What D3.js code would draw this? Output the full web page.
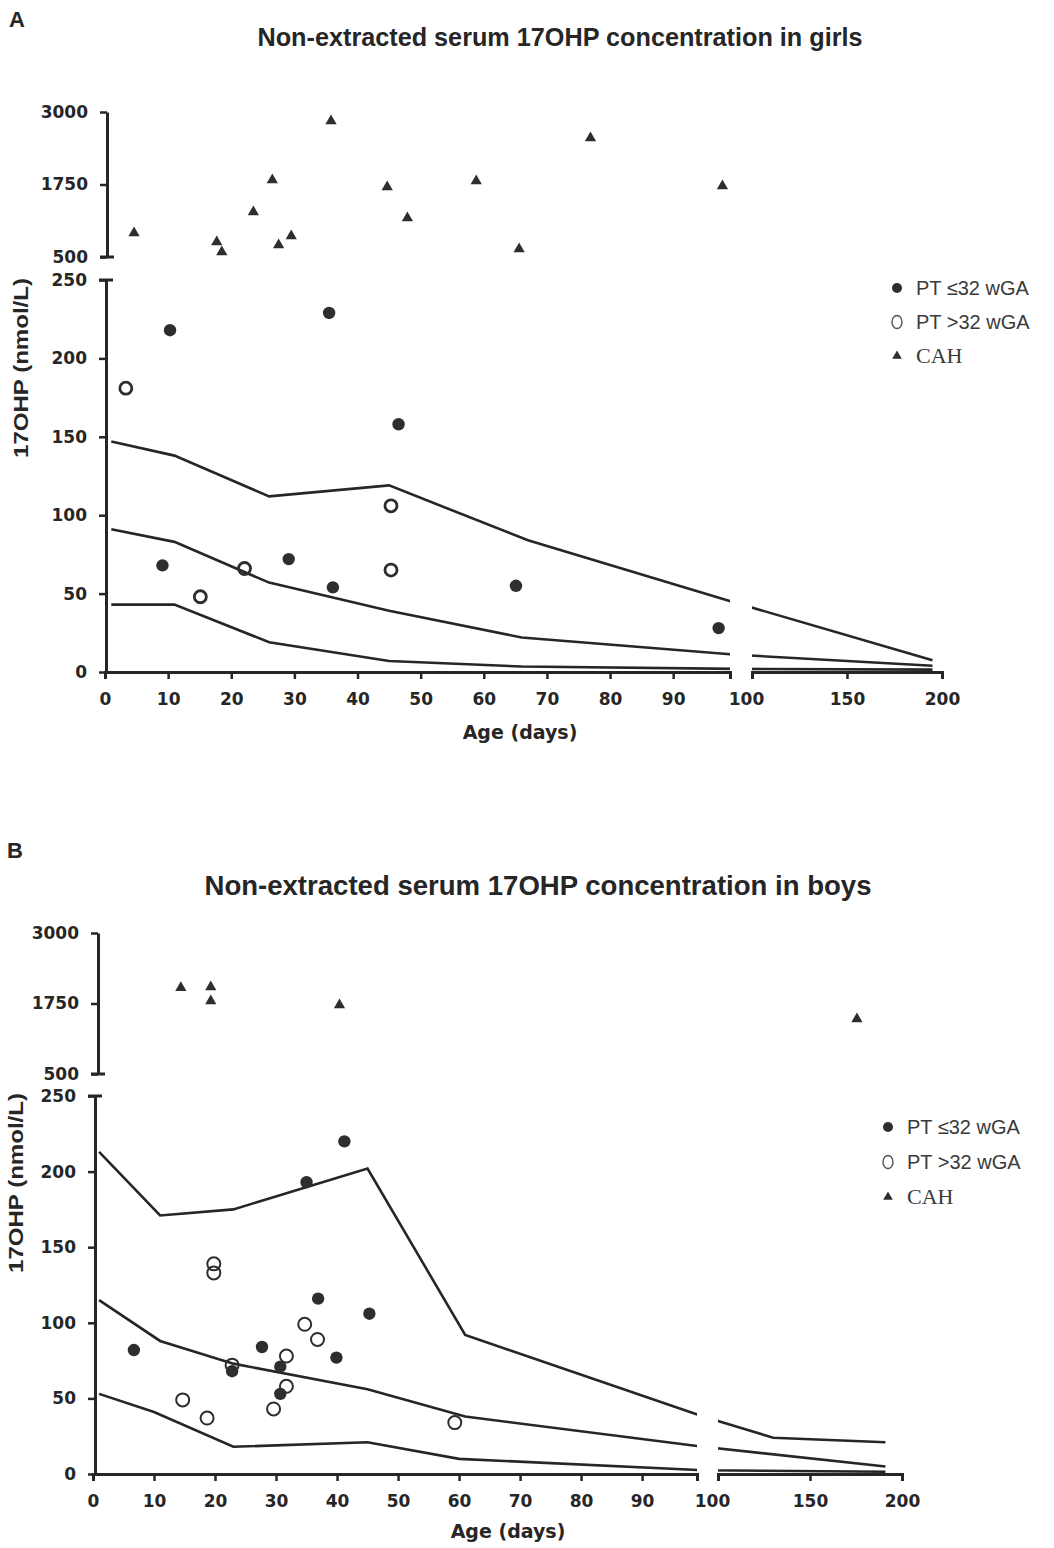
<!DOCTYPE html>
<html>
<head>
<meta charset="utf-8">
<script src="https://cdn.jsdelivr.net/npm/d3@7"></script>
<style>
body { margin: 0; background: #fff; }
</style>
</head>
<body>
<div id="chart"></div>
<script>
// ---- panel A : girls  ([age in days, 17OHP nmol/L])
const girlsPT32 = [[10.3,218],[35.5,229],[46.5,158],[9.1,68],[29.1,72],[36.1,54],[65.1,55],[97.2,28]];
const girlsPTover32 = [[3.3,181],[45.3,106],[22.1,66],[45.3,65],[15.1,48]];
const girlsCAH = [[4.6,914],[17.7,759],[18.5,586],[23.5,1276],[26.5,1828],[27.5,707],[29.5,862],[35.8,2845],
    [44.7,1707],[47.9,1172],[58.8,1810],[65.6,638],[76.9,2552],[97.8,1724]];
const girlsUpper = [[1,147],[11,138],[26,112],[45,119],[67,84],[100,44],[195,7.5]];
const girlsMiddle = [[1,91],[11,83],[26,57],[45,39],[66,22],[100,11],[195,4]];
const girlsLower = [[1,43],[11,43],[26,19],[45,7],[66,3.5],[100,2],[195,1.5]];

// ---- panel B : boys
const boysPT32 = [[41.2,220],[35,193],[36.9,116],[45.3,106],[6.7,82],[27.7,84],[39.9,77],[22.8,68],[30.7,71],[30.7,53]];
const boysPTover32 = [[19.8,139],[19.8,133],[34.7,99],[36.8,89],[31.7,78],[31.7,58],[14.7,49],[18.7,37],[29.6,43],[59.3,34],[22.8,72]];
const boysCAH = [[14.4,2030],[19.3,2043],[19.3,1794],[40.4,1723],[175.5,1475]];
const boysUpper = [[1,213],[11,171],[23,175],[45,202],[61,92],[100,38],[130,24],[191,21]];
const boysMiddle = [[1,115],[11,88],[23,73],[45,56],[61,38],[100,18],[191,5]];
const boysLower = [[1,53],[10,41],[23,18],[45,21],[60,10],[100,2.5],[191,1.5]];

// ---- axes / labels
const lowTicks = [0, 50, 100, 150, 200, 250];
const highTicks = [500, 1750, 3000];
const dayTicks = [0, 10, 20, 30, 40, 50, 60, 70, 80, 90];
const dayTicks2 = [100, 150, 200];
const legendLabels = ["PT \u226432 wGA", "PT >32 wGA", "CAH"];
const yTitle = "17OHP (nmol/L)";
const xTitle = "Age (days)";

const ink = "#262626";
const svg = d3.select("#chart").append("svg")
    .attr("width", 1054)
    .attr("height", 1548)
    .style("background", "#fff");

const panels = [
    {
        id: "A", tag: "A", tagX: 9, tagY: 27,
        title: "Non-extracted serum 17OHP concentration in girls", titleX: 560, titleY: 46, titleLen: 605, titleSize: 25,
        x0: 105, xBreak: 730, x100: 752, x200: 942,
        y0: 672, y250: 280, y500: 257, y3000: 112, axisX: 106, axisXHigh: 107,
        yTitleX: 28, yTitleY: 368, xTitleX: 520, xTitleY: 739,
        legX: 897, legY: 288, legGap: 34,
        pt32: girlsPT32, ptOver: girlsPTover32, cah: girlsCAH,
        lines: [girlsUpper, girlsMiddle, girlsLower], openStroke: 2.8, openR: 6
    },
    {
        id: "B", tag: "B", tagX: 7, tagY: 858,
        title: "Non-extracted serum 17OHP concentration in boys", titleX: 538, titleY: 895, titleLen: 667, titleSize: 27,
        x0: 93, xBreak: 697, x100: 718, x200: 902,
        y0: 1474, y250: 1096, y500: 1074, y3000: 933, axisX: 95, axisXHigh: 98,
        yTitleX: 23, yTitleY: 1183, xTitleX: 508, xTitleY: 1538,
        legX: 888, legY: 1127, legGap: 35,
        pt32: boysPT32, ptOver: boysPTover32, cah: boysCAH,
        lines: [boysUpper, boysMiddle, boysLower], openStroke: 2, openR: 6.5
    }
];

panels.forEach(drawPanel);

function styleAxis(sel) {
    sel.select(".domain").attr("stroke", ink).attr("stroke-width", 3);
    sel.selectAll(".tick line").attr("stroke", ink).attr("stroke-width", 2.5);
    sel.selectAll(".tick text")
        .attr("fill", ink)
        .style("font-family", "DejaVu Sans")
        .style("font-weight", "bold")
        .style("font-size", "17px");
}

function drawPanel(p) {
    const g = svg.append("g");
    const fmt = d3.format("d");

    const x1 = d3.scaleLinear().domain([0, 99]).range([p.x0, p.xBreak]);
    const x2 = d3.scaleLinear().domain([100, 200]).range([p.x100, p.x200]);
    const xDay = d => d <= 100 ? x1(d) : x2(d);
    const yLow = d3.scaleLinear().domain([0, 250]).range([p.y0, p.y250]);
    const yHigh = d3.scaleLinear().domain([500, 3000]).range([p.y500, p.y3000]);

    // panel letter + title
    svg.append("text").attr("x", p.tagX).attr("y", p.tagY).text(p.tag)
        .style("font-family", "Liberation Sans").style("font-weight", "bold").style("font-size", "22px").attr("fill", ink);
    svg.append("text").attr("x", p.titleX).attr("y", p.titleY).text(p.title)
        .attr("text-anchor", "middle")
        .attr("textLength", p.titleLen).attr("lengthAdjust", "spacingAndGlyphs")
        .style("font-family", "Liberation Sans").style("font-weight", "bold").style("font-size", p.titleSize + "px")
        .attr("fill", ink);

    // y axes (broken)
    const yl = g.append("g").attr("transform", "translate(" + p.axisX + ",0)")
        .call(d3.axisLeft(yLow).tickValues(lowTicks).tickFormat(fmt).tickSize(7).tickSizeOuter(0).tickPadding(12));
    styleAxis(yl);
    const yh = g.append("g").attr("transform", "translate(" + p.axisXHigh + ",0)")
        .call(d3.axisLeft(yHigh).tickValues(highTicks).tickFormat(fmt).tickSize(7).tickSizeOuter(0).tickPadding(12));
    styleAxis(yh);
    // caps at the break
    g.append("line").attr("x1", p.axisX - 7).attr("x2", p.axisX + 7)
        .attr("y1", yLow(250)).attr("y2", yLow(250)).attr("stroke", ink).attr("stroke-width", 3);
    g.append("line").attr("x1", p.axisXHigh - 7).attr("x2", p.axisXHigh + 7)
        .attr("y1", yHigh(500)).attr("y2", yHigh(500)).attr("stroke", ink).attr("stroke-width", 3);

    // x axes (broken)
    const xa = g.append("g").attr("transform", "translate(0," + p.y0 + ")")
        .call(d3.axisBottom(x1).tickValues(dayTicks).tickFormat(fmt).tickSize(7).tickSizeOuter(7).tickPadding(14));
    styleAxis(xa);
    const xb = g.append("g").attr("transform", "translate(0," + p.y0 + ")")
        .call(d3.axisBottom(x2).tickValues(dayTicks2).tickFormat(fmt).tickSize(7).tickSizeOuter(7).tickPadding(14));
    styleAxis(xb);
    xb.selectAll(".tick text").filter(d => d === 100).attr("dx", -6);

    // axis titles
    g.append("text")
        .attr("transform", "translate(" + p.yTitleX + "," + p.yTitleY + ") rotate(-90)")
        .attr("text-anchor", "middle").text(yTitle)
        .attr("textLength", 180).attr("lengthAdjust", "spacingAndGlyphs")
        .style("font-family", "Liberation Sans").style("font-weight", "bold").style("font-size", "20px").attr("fill", ink);
    g.append("text").attr("x", p.xTitleX).attr("y", p.xTitleY)
        .attr("text-anchor", "middle").text(xTitle)
        .style("font-family", "DejaVu Sans").style("font-weight", "bold").style("font-size", "19px").attr("fill", ink);

    // reference curves, clipped at the axis break
    const clip = svg.append("clipPath").attr("id", "clip" + p.id);
    clip.append("rect").attr("x", x1(0) - 3).attr("y", 0).attr("width", x1(99) - x1(0) + 3).attr("height", 1548);
    clip.append("rect").attr("x", x2(100)).attr("y", 0).attr("width", x2(200) - x2(100)).attr("height", 1548);

    const line = d3.line().x(d => xDay(d[0])).y(d => yLow(d[1]));
    g.append("g").attr("clip-path", "url(#clip" + p.id + ")")
        .selectAll("path.curve")
        .data(p.lines)
        .join("path")
        .attr("class", "curve")
        .attr("d", line)
        .attr("fill", "none")
        .attr("stroke", ink)
        .attr("stroke-width", 2.6);

    // scatter
    g.selectAll("circle.pt32").data(p.pt32).join("circle")
        .attr("class", "pt32")
        .attr("cx", d => xDay(d[0])).attr("cy", d => yLow(d[1]))
        .attr("r", 6.2).attr("fill", "#2e2e2e");
    g.selectAll("circle.ptover").data(p.ptOver).join("circle")
        .attr("class", "ptover")
        .attr("cx", d => xDay(d[0])).attr("cy", d => yLow(d[1]))
        .attr("r", p.openR).attr("fill", "none").attr("stroke", "#2e2e2e").attr("stroke-width", p.openStroke);
    const tri = d3.symbol().type(d3.symbolTriangle).size(55);
    g.selectAll("path.cah").data(p.cah).join("path")
        .attr("class", "cah")
        .attr("transform", d => "translate(" + xDay(d[0]) + "," + yHigh(d[1]) + ")")
        .attr("d", tri).attr("fill", "#2e2e2e");

    // legend
    const leg = g.append("g");
    legendLabels.forEach((lab, i) => {
        const ly = p.legY + i * p.legGap;
        if (i === 0) {
            leg.append("circle").attr("cx", p.legX).attr("cy", ly).attr("r", 5).attr("fill", "#2e2e2e");
        } else if (i === 1) {
            leg.append("ellipse").attr("cx", p.legX).attr("cy", ly).attr("rx", 5).attr("ry", 6.5)
                .attr("fill", "none").attr("stroke", "#555").attr("stroke-width", 1.4);
        } else {
            leg.append("path").attr("transform", "translate(" + p.legX + "," + ly + ")")
                .attr("d", d3.symbol().type(d3.symbolTriangle).size(40)).attr("fill", "#2e2e2e");
        }
        leg.append("text").attr("x", p.legX + 19).attr("y", ly + 7).text(lab)
            .style("font-family", i === 2 ? "Liberation Serif" : "Liberation Sans")
            .style("font-size", i === 2 ? "22px" : "20px")
            .attr("fill", "#3a3a3a");
    });
}
</script>
</body>
</html>
